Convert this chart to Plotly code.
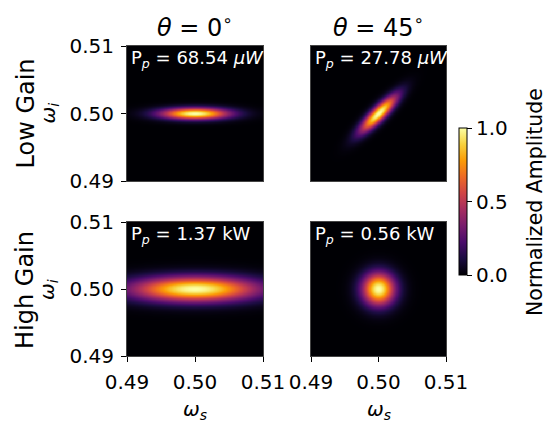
import numpy as np
import plotly.graph_objects as go

# axis values
omega_ticks = [0.49, 0.50, 0.51]
omega_labels = ["0.49", "0.50", "0.51"]
cbar_ticks = [0.0, 0.5, 1.0]

# shape of each spectral amplitude (centre, widths, tilt)
centre = [0.50, 0.50, 0.50, 0.50]
sigma_major = [0.0035, 0.0026, 0.0065, 0.0017]
sigma_minor = [0.0006, 0.0007, 0.0013, 0.0017]
tilt_deg = [0, 45, 0, 0]
power_text = ["P<sub><i>p</i></sub> = 68.54 <i>μW</i>",
              "P<sub><i>p</i></sub> = 27.78 <i>μW</i>",
              "P<sub><i>p</i></sub> = 1.37 kW",
              "P<sub><i>p</i></sub> = 0.56 kW"]
col_titles = ["<i>θ</i> = 0<sup>∘</sup>", "<i>θ</i> = 45<sup>∘</sup>"]
row_titles = ["Low Gain", "High Gain"]

W, H = 558, 435
font = "DejaVu Sans"

w = np.linspace(0.49, 0.51, 241)
ws, wi = np.meshgrid(w, w)

# panel boxes in pixels: left, right, top, bottom
boxes = [(127, 263, 46, 181), (311, 446, 46, 181),
         (127, 263, 222, 356), (311, 446, 222, 356)]

fig = go.Figure()
for k in range(4):
    a = np.deg2rad(tilt_deg[k])
    u = (ws - centre[k]) * np.cos(a) + (wi - centre[k]) * np.sin(a)
    v = -(ws - centre[k]) * np.sin(a) + (wi - centre[k]) * np.cos(a)
    z = np.exp(-u**2 / (2 * sigma_major[k]**2) - v**2 / (2 * sigma_minor[k]**2))
    n = "" if k == 0 else str(k + 1)
    trace = go.Heatmap(x=w, y=w, z=z, colorscale="Inferno", zmin=0, zmax=1,
                       xaxis="x" + n, yaxis="y" + n, showscale=(k == 0),
                       hoverinfo="skip")
    if k == 0:
        trace.colorbar = dict(
            x=459 / W, xanchor="left", y=1 - 201.5 / H, yanchor="middle",
            len=147, lenmode="pixels", thickness=8, thicknessmode="pixels",
            outlinecolor="black", outlinewidth=1, xpad=0, ypad=0,
            tickvals=cbar_ticks, ticktext=["0.0", "0.5", "1.0"],
            ticks="outside", ticklen=5, tickcolor="black",
            tickfont=dict(size=20, color="black", family=font))
    fig.add_trace(trace)

    l, r, t, b = boxes[k]
    show_x = k >= 2
    show_y = k % 2 == 0
    fig.update_layout(**{
        "xaxis" + n: dict(domain=[l / W, r / W], range=[0.49, 0.51],
                          anchor="y" + n, showline=True, mirror=True, automargin=False,
                          linecolor="#444", linewidth=1, showgrid=False, zeroline=False,
                          tickvals=omega_ticks if show_x else [],
                          ticktext=omega_labels, ticks="outside" if show_x else "",
                          ticklen=5, tickcolor="black", ticklabelstandoff=3,
                          tickfont=dict(size=20, color="black", family=font)),
        "yaxis" + n: dict(domain=[1 - b / H, 1 - t / H], range=[0.49, 0.51],
                          anchor="x" + n, showline=True, mirror=True, automargin=False,
                          linecolor="#444", linewidth=1, showgrid=False, zeroline=False,
                          tickvals=omega_ticks if show_y else [],
                          ticktext=omega_labels, ticks="outside" if show_y else "",
                          ticklen=5, tickcolor="black", ticklabelstandoff=3,
                          tickfont=dict(size=20, color="black", family=font)),
    })
    fig.add_annotation(text=power_text[k], xref="x" + n + " domain", yref="y" + n + " domain",
                       x=0.015, y=1.01, xanchor="left", yanchor="top", showarrow=False,
                       font=dict(size=18, color="white", family=font))

for c, cx in enumerate([195, 378.5]):
    fig.add_annotation(text=col_titles[c], xref="paper", yref="paper",
                       x=cx / W, y=1 - 26 / H, xanchor="center", yanchor="middle",
                       showarrow=False, font=dict(size=24, color="black", family=font))
    fig.add_annotation(text="<i>ω<sub>s</sub></i>", xref="paper", yref="paper",
                       x=cx / W, y=1 - 410 / H, xanchor="center", yanchor="middle",
                       showarrow=False, font=dict(size=20, color="black", family=font))

for r, cy in enumerate([113.5, 290]):
    fig.add_annotation(text=row_titles[r], xref="paper", yref="paper",
                       x=25 / W, y=1 - cy / H, xanchor="center", yanchor="middle",
                       textangle=-90, showarrow=False,
                       font=dict(size=24, color="black", family=font))
    fig.add_annotation(text="<i>ω<sub>i</sub></i>", xref="paper", yref="paper",
                       x=48 / W, y=1 - cy / H, xanchor="center", yanchor="middle",
                       textangle=-90, showarrow=False,
                       font=dict(size=20, color="black", family=font))

# colour bar title
fig.add_annotation(text="Normalized Amplitude", xref="paper", yref="paper",
                   x=535 / W, y=1 - 202 / H, xanchor="center", yanchor="middle",
                   textangle=-90, showarrow=False,
                   font=dict(size=20.5, color="black", family=font))

fig.update_layout(width=W, height=H,
                  margin=dict(l=0, r=0, t=0, b=0, pad=0, autoexpand=False),
                  paper_bgcolor="white", plot_bgcolor="black", showlegend=False)
# drop the page's default body margin so the figure sits at the window corner
fig.write_html("out.html", config={"displayModeBar": False},
               post_script="document.body.style.margin='0px';")
